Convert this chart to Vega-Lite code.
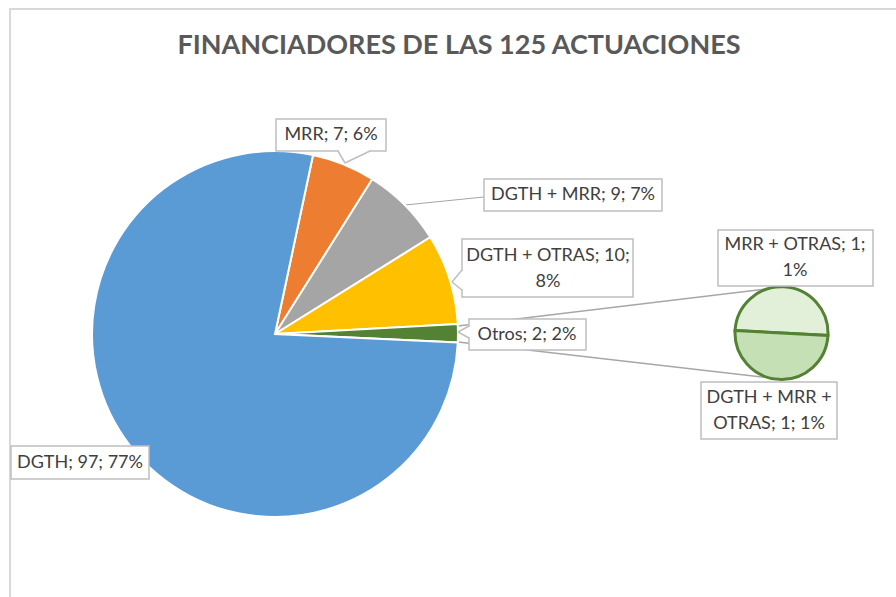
{
  "$schema": "https://vega.github.io/schema/vega-lite/v6.json",
  "autosize": "none",
  "padding": 0,
  "width": 896,
  "height": 597,
  "background": "white",
  "config": {"view": {"stroke": null}, "axis": {"disable": true}, "legend": {"disable": true}},
  "datasets": {
    "slices": [
      {"categoria": "MRR", "valor": 7, "pct": "6%", "orden": 1, "grafico": "principal", "etiqueta": "MRR; 7; 6%"},
      {"categoria": "DGTH + MRR", "valor": 9, "pct": "7%", "orden": 2, "grafico": "principal", "etiqueta": "DGTH + MRR; 9; 7%"},
      {"categoria": "DGTH + OTRAS", "valor": 10, "pct": "8%", "orden": 3, "grafico": "principal", "etiqueta": "DGTH + OTRAS; 10;\n8%"},
      {"categoria": "Otros", "valor": 2, "pct": "2%", "orden": 4, "grafico": "principal", "etiqueta": "Otros; 2; 2%"},
      {"categoria": "DGTH", "valor": 97, "pct": "77%", "orden": 5, "grafico": "principal", "etiqueta": "DGTH; 97; 77%"},
      {"categoria": "MRR + OTRAS", "valor": 1, "pct": "1%", "orden": 1, "grafico": "secundario", "etiqueta": "MRR + OTRAS; 1;\n1%"},
      {"categoria": "DGTH + MRR + OTRAS", "valor": 1, "pct": "1%", "orden": 2, "grafico": "secundario", "etiqueta": "DGTH + MRR +\nOTRAS; 1; 1%"}
    ]
  },
  "data": {"name": "slices"},
  "resolve": {"scale": {"theta": "independent"}},
  "layer": [
    {
      "data": {"values": [{}]},
      "mark": {"type": "rect", "filled": false, "stroke": "#D9D9D9", "strokeWidth": 2},
      "encoding": {
        "x": {"datum": 10, "type": "quantitative", "scale": {"domain": [0, 896], "nice": false, "zero": false}},
        "x2": {"datum": 905},
        "y": {"datum": 9, "type": "quantitative", "scale": {"domain": [0, 597], "nice": false, "zero": false, "reverse": true}},
        "y2": {"datum": 610}
      }
    },
    {
      "data": {"values": [{}]},
      "mark": {"type": "text", "text": "FINANCIADORES DE LAS 125 ACTUACIONES", "font": "Lato", "fontSize": 27, "fontWeight": "bold", "color": "#595959", "align": "center", "baseline": "middle"},
      "encoding": {
        "x": {"datum": 459, "type": "quantitative", "scale": {"domain": [0, 896], "nice": false, "zero": false}},
        "y": {"datum": 46, "type": "quantitative", "scale": {"domain": [0, 597], "nice": false, "zero": false, "reverse": true}}
      }
    },
    {
      "data": {"values": [{}]},
      "mark": {"type": "rule", "color": "#A6A6A6", "strokeWidth": 1.5},
      "encoding": {
        "x": {"datum": 458, "type": "quantitative", "scale": {"domain": [0, 896], "nice": false, "zero": false}},
        "x2": {"datum": 783},
        "y": {"datum": 326, "type": "quantitative", "scale": {"domain": [0, 597], "nice": false, "zero": false, "reverse": true}},
        "y2": {"datum": 287}
      }
    },
    {
      "data": {"values": [{}]},
      "mark": {"type": "rule", "color": "#A6A6A6", "strokeWidth": 1.5},
      "encoding": {
        "x": {"datum": 458, "type": "quantitative", "scale": {"domain": [0, 896], "nice": false, "zero": false}},
        "x2": {"datum": 779},
        "y": {"datum": 342, "type": "quantitative", "scale": {"domain": [0, 597], "nice": false, "zero": false, "reverse": true}},
        "y2": {"datum": 379}
      }
    },
    {
      "data": {"values": [{}]},
      "mark": {"type": "rule", "color": "#A6A6A6", "strokeWidth": 1.2},
      "encoding": {
        "x": {"datum": 405, "type": "quantitative", "scale": {"domain": [0, 896], "nice": false, "zero": false}},
        "x2": {"datum": 484},
        "y": {"datum": 205, "type": "quantitative", "scale": {"domain": [0, 597], "nice": false, "zero": false, "reverse": true}},
        "y2": {"datum": 197}
      }
    },
    {
      "transform": [{"filter": "datum.grafico === 'principal'"}],
      "mark": {"type": "arc", "outerRadius": 183, "stroke": "white", "strokeWidth": 2},
      "encoding": {
        "theta": {"field": "valor", "type": "quantitative", "stack": true, "scale": {"range": [0.2094, 6.4926]}},
        "order": {"field": "orden", "type": "quantitative"},
        "color": {"field": "categoria", "type": "nominal", "scale": {"domain": ["DGTH", "MRR", "DGTH + MRR", "DGTH + OTRAS", "Otros", "MRR + OTRAS", "DGTH + MRR + OTRAS"], "range": ["#5B9BD5", "#ED7D31", "#A5A5A5", "#FFC000", "#548235", "#E2F0D9", "#C5E0B4"]}},
        "x": {"datum": 275, "type": "quantitative", "scale": {"domain": [0, 896], "nice": false, "zero": false}},
        "y": {"datum": 334, "type": "quantitative", "scale": {"domain": [0, 597], "nice": false, "zero": false, "reverse": true}}
      }
    },
    {
      "transform": [{"filter": "datum.grafico === 'secundario'"}],
      "mark": {"type": "arc", "outerRadius": 46.5, "stroke": "#548235", "strokeWidth": 3},
      "encoding": {
        "theta": {"field": "valor", "type": "quantitative", "stack": true, "scale": {"range": [-1.518, 4.765]}},
        "order": {"field": "orden", "type": "quantitative"},
        "color": {"field": "categoria", "type": "nominal", "scale": {"domain": ["DGTH", "MRR", "DGTH + MRR", "DGTH + OTRAS", "Otros", "MRR + OTRAS", "DGTH + MRR + OTRAS"], "range": ["#5B9BD5", "#ED7D31", "#A5A5A5", "#FFC000", "#548235", "#E2F0D9", "#C5E0B4"]}},
        "x": {"datum": 781.5, "type": "quantitative", "scale": {"domain": [0, 896], "nice": false, "zero": false}},
        "y": {"datum": 333, "type": "quantitative", "scale": {"domain": [0, 597], "nice": false, "zero": false, "reverse": true}}
      }
    },
    {
      "transform": [{"filter": "datum.categoria === 'MRR'"}],
      "mark": {"type": "rect", "fill": "white", "stroke": "#BFBFBF", "strokeWidth": 1.5},
      "encoding": {
        "x": {"datum": 276, "type": "quantitative", "scale": {"domain": [0, 896], "nice": false, "zero": false}},
        "x2": {"datum": 386},
        "y": {"datum": 119, "type": "quantitative", "scale": {"domain": [0, 597], "nice": false, "zero": false, "reverse": true}},
        "y2": {"datum": 151}
      }
    },
    {
      "transform": [{"filter": "datum.categoria === 'DGTH + MRR'"}],
      "mark": {"type": "rect", "fill": "white", "stroke": "#BFBFBF", "strokeWidth": 1.5},
      "encoding": {
        "x": {"datum": 484, "type": "quantitative", "scale": {"domain": [0, 896], "nice": false, "zero": false}},
        "x2": {"datum": 662},
        "y": {"datum": 179, "type": "quantitative", "scale": {"domain": [0, 597], "nice": false, "zero": false, "reverse": true}},
        "y2": {"datum": 211}
      }
    },
    {
      "transform": [{"filter": "datum.categoria === 'DGTH + OTRAS'"}],
      "mark": {"type": "rect", "fill": "white", "stroke": "#BFBFBF", "strokeWidth": 1.5},
      "encoding": {
        "x": {"datum": 462, "type": "quantitative", "scale": {"domain": [0, 896], "nice": false, "zero": false}},
        "x2": {"datum": 633},
        "y": {"datum": 239, "type": "quantitative", "scale": {"domain": [0, 597], "nice": false, "zero": false, "reverse": true}},
        "y2": {"datum": 297}
      }
    },
    {
      "transform": [{"filter": "datum.categoria === 'Otros'"}],
      "mark": {"type": "rect", "fill": "white", "stroke": "#BFBFBF", "strokeWidth": 1.5},
      "encoding": {
        "x": {"datum": 469, "type": "quantitative", "scale": {"domain": [0, 896], "nice": false, "zero": false}},
        "x2": {"datum": 586},
        "y": {"datum": 319, "type": "quantitative", "scale": {"domain": [0, 597], "nice": false, "zero": false, "reverse": true}},
        "y2": {"datum": 350}
      }
    },
    {
      "transform": [{"filter": "datum.categoria === 'MRR + OTRAS'"}],
      "mark": {"type": "rect", "fill": "white", "stroke": "#BFBFBF", "strokeWidth": 1.5},
      "encoding": {
        "x": {"datum": 718, "type": "quantitative", "scale": {"domain": [0, 896], "nice": false, "zero": false}},
        "x2": {"datum": 873},
        "y": {"datum": 230, "type": "quantitative", "scale": {"domain": [0, 597], "nice": false, "zero": false, "reverse": true}},
        "y2": {"datum": 286}
      }
    },
    {
      "transform": [{"filter": "datum.categoria === 'DGTH + MRR + OTRAS'"}],
      "mark": {"type": "rect", "fill": "white", "stroke": "#BFBFBF", "strokeWidth": 1.5},
      "encoding": {
        "x": {"datum": 701, "type": "quantitative", "scale": {"domain": [0, 896], "nice": false, "zero": false}},
        "x2": {"datum": 837},
        "y": {"datum": 382, "type": "quantitative", "scale": {"domain": [0, 597], "nice": false, "zero": false, "reverse": true}},
        "y2": {"datum": 439}
      }
    },
    {
      "transform": [{"filter": "datum.categoria === 'DGTH'"}],
      "mark": {"type": "rect", "fill": "white", "stroke": "#BFBFBF", "strokeWidth": 1.5},
      "encoding": {
        "x": {"datum": 11, "type": "quantitative", "scale": {"domain": [0, 896], "nice": false, "zero": false}},
        "x2": {"datum": 149},
        "y": {"datum": 446, "type": "quantitative", "scale": {"domain": [0, 597], "nice": false, "zero": false, "reverse": true}},
        "y2": {"datum": 479}
      }
    },
    {
      "data": {"values": [{}]},
      "mark": {"type": "rule", "color": "white", "strokeWidth": 2.5},
      "encoding": {
        "x": {"datum": 339, "type": "quantitative", "scale": {"domain": [0, 896], "nice": false, "zero": false}},
        "x2": {"datum": 369},
        "y": {"datum": 151, "type": "quantitative", "scale": {"domain": [0, 597], "nice": false, "zero": false, "reverse": true}},
        "y2": {"datum": 151}
      }
    },
    {
      "data": {"values": [{}]},
      "mark": {"type": "rule", "color": "#BFBFBF", "strokeWidth": 1.5},
      "encoding": {
        "x": {"datum": 338, "type": "quantitative", "scale": {"domain": [0, 896], "nice": false, "zero": false}},
        "x2": {"datum": 345},
        "y": {"datum": 151, "type": "quantitative", "scale": {"domain": [0, 597], "nice": false, "zero": false, "reverse": true}},
        "y2": {"datum": 163}
      }
    },
    {
      "data": {"values": [{}]},
      "mark": {"type": "rule", "color": "#BFBFBF", "strokeWidth": 1.5},
      "encoding": {
        "x": {"datum": 345, "type": "quantitative", "scale": {"domain": [0, 896], "nice": false, "zero": false}},
        "x2": {"datum": 370},
        "y": {"datum": 163, "type": "quantitative", "scale": {"domain": [0, 597], "nice": false, "zero": false, "reverse": true}},
        "y2": {"datum": 151}
      }
    },
    {
      "data": {"values": [{}]},
      "mark": {"type": "rule", "color": "white", "strokeWidth": 2.5},
      "encoding": {
        "x": {"datum": 462, "type": "quantitative", "scale": {"domain": [0, 896], "nice": false, "zero": false}},
        "x2": {"datum": 462},
        "y": {"datum": 271, "type": "quantitative", "scale": {"domain": [0, 597], "nice": false, "zero": false, "reverse": true}},
        "y2": {"datum": 289}
      }
    },
    {
      "data": {"values": [{}]},
      "mark": {"type": "rule", "color": "#BFBFBF", "strokeWidth": 1.5},
      "encoding": {
        "x": {"datum": 462, "type": "quantitative", "scale": {"domain": [0, 896], "nice": false, "zero": false}},
        "x2": {"datum": 452},
        "y": {"datum": 270, "type": "quantitative", "scale": {"domain": [0, 597], "nice": false, "zero": false, "reverse": true}},
        "y2": {"datum": 282}
      }
    },
    {
      "data": {"values": [{}]},
      "mark": {"type": "rule", "color": "#BFBFBF", "strokeWidth": 1.5},
      "encoding": {
        "x": {"datum": 452, "type": "quantitative", "scale": {"domain": [0, 896], "nice": false, "zero": false}},
        "x2": {"datum": 462},
        "y": {"datum": 282, "type": "quantitative", "scale": {"domain": [0, 597], "nice": false, "zero": false, "reverse": true}},
        "y2": {"datum": 290}
      }
    },
    {
      "data": {"values": [{}]},
      "mark": {"type": "rule", "color": "white", "strokeWidth": 2.5},
      "encoding": {
        "x": {"datum": 469, "type": "quantitative", "scale": {"domain": [0, 896], "nice": false, "zero": false}},
        "x2": {"datum": 469},
        "y": {"datum": 327, "type": "quantitative", "scale": {"domain": [0, 597], "nice": false, "zero": false, "reverse": true}},
        "y2": {"datum": 337}
      }
    },
    {
      "data": {"values": [{}]},
      "mark": {"type": "rule", "color": "#BFBFBF", "strokeWidth": 1.5},
      "encoding": {
        "x": {"datum": 469, "type": "quantitative", "scale": {"domain": [0, 896], "nice": false, "zero": false}},
        "x2": {"datum": 458},
        "y": {"datum": 326, "type": "quantitative", "scale": {"domain": [0, 597], "nice": false, "zero": false, "reverse": true}},
        "y2": {"datum": 332}
      }
    },
    {
      "data": {"values": [{}]},
      "mark": {"type": "rule", "color": "#BFBFBF", "strokeWidth": 1.5},
      "encoding": {
        "x": {"datum": 458, "type": "quantitative", "scale": {"domain": [0, 896], "nice": false, "zero": false}},
        "x2": {"datum": 469},
        "y": {"datum": 332, "type": "quantitative", "scale": {"domain": [0, 597], "nice": false, "zero": false, "reverse": true}},
        "y2": {"datum": 338}
      }
    },
    {
      "transform": [{"filter": "datum.categoria === 'MRR'"}],
      "mark": {"type": "text", "font": "Lato", "fontSize": 18, "color": "#404040", "align": "center", "baseline": "middle", "lineBreak": "\n", "lineHeight": 26},
      "encoding": {
        "x": {"datum": 331, "type": "quantitative", "scale": {"domain": [0, 896], "nice": false, "zero": false}},
        "y": {"datum": 135, "type": "quantitative", "scale": {"domain": [0, 597], "nice": false, "zero": false, "reverse": true}},
        "text": {"field": "etiqueta"}
      }
    },
    {
      "transform": [{"filter": "datum.categoria === 'DGTH + MRR'"}],
      "mark": {"type": "text", "font": "Lato", "fontSize": 18, "color": "#404040", "align": "center", "baseline": "middle", "lineBreak": "\n", "lineHeight": 26},
      "encoding": {
        "x": {"datum": 573, "type": "quantitative", "scale": {"domain": [0, 896], "nice": false, "zero": false}},
        "y": {"datum": 195, "type": "quantitative", "scale": {"domain": [0, 597], "nice": false, "zero": false, "reverse": true}},
        "text": {"field": "etiqueta"}
      }
    },
    {
      "transform": [{"filter": "datum.categoria === 'DGTH + OTRAS'"}],
      "mark": {"type": "text", "font": "Lato", "fontSize": 18, "color": "#404040", "align": "center", "baseline": "middle", "lineBreak": "\n", "lineHeight": 26},
      "encoding": {
        "x": {"datum": 548, "type": "quantitative", "scale": {"domain": [0, 896], "nice": false, "zero": false}},
        "y": {"datum": 256, "type": "quantitative", "scale": {"domain": [0, 597], "nice": false, "zero": false, "reverse": true}},
        "text": {"field": "etiqueta"}
      }
    },
    {
      "transform": [{"filter": "datum.categoria === 'Otros'"}],
      "mark": {"type": "text", "font": "Lato", "fontSize": 18, "color": "#404040", "align": "center", "baseline": "middle", "lineBreak": "\n", "lineHeight": 26},
      "encoding": {
        "x": {"datum": 527, "type": "quantitative", "scale": {"domain": [0, 896], "nice": false, "zero": false}},
        "y": {"datum": 335, "type": "quantitative", "scale": {"domain": [0, 597], "nice": false, "zero": false, "reverse": true}},
        "text": {"field": "etiqueta"}
      }
    },
    {
      "transform": [{"filter": "datum.categoria === 'MRR + OTRAS'"}],
      "mark": {"type": "text", "font": "Lato", "fontSize": 18, "color": "#404040", "align": "center", "baseline": "middle", "lineBreak": "\n", "lineHeight": 26},
      "encoding": {
        "x": {"datum": 795, "type": "quantitative", "scale": {"domain": [0, 896], "nice": false, "zero": false}},
        "y": {"datum": 245, "type": "quantitative", "scale": {"domain": [0, 597], "nice": false, "zero": false, "reverse": true}},
        "text": {"field": "etiqueta"}
      }
    },
    {
      "transform": [{"filter": "datum.categoria === 'DGTH + MRR + OTRAS'"}],
      "mark": {"type": "text", "font": "Lato", "fontSize": 18, "color": "#404040", "align": "center", "baseline": "middle", "lineBreak": "\n", "lineHeight": 26},
      "encoding": {
        "x": {"datum": 769, "type": "quantitative", "scale": {"domain": [0, 896], "nice": false, "zero": false}},
        "y": {"datum": 398, "type": "quantitative", "scale": {"domain": [0, 597], "nice": false, "zero": false, "reverse": true}},
        "text": {"field": "etiqueta"}
      }
    },
    {
      "transform": [{"filter": "datum.categoria === 'DGTH'"}],
      "mark": {"type": "text", "font": "Lato", "fontSize": 18, "color": "#404040", "align": "center", "baseline": "middle", "lineBreak": "\n", "lineHeight": 26},
      "encoding": {
        "x": {"datum": 80, "type": "quantitative", "scale": {"domain": [0, 896], "nice": false, "zero": false}},
        "y": {"datum": 463, "type": "quantitative", "scale": {"domain": [0, 597], "nice": false, "zero": false, "reverse": true}},
        "text": {"field": "etiqueta"}
      }
    }
  ]
}
